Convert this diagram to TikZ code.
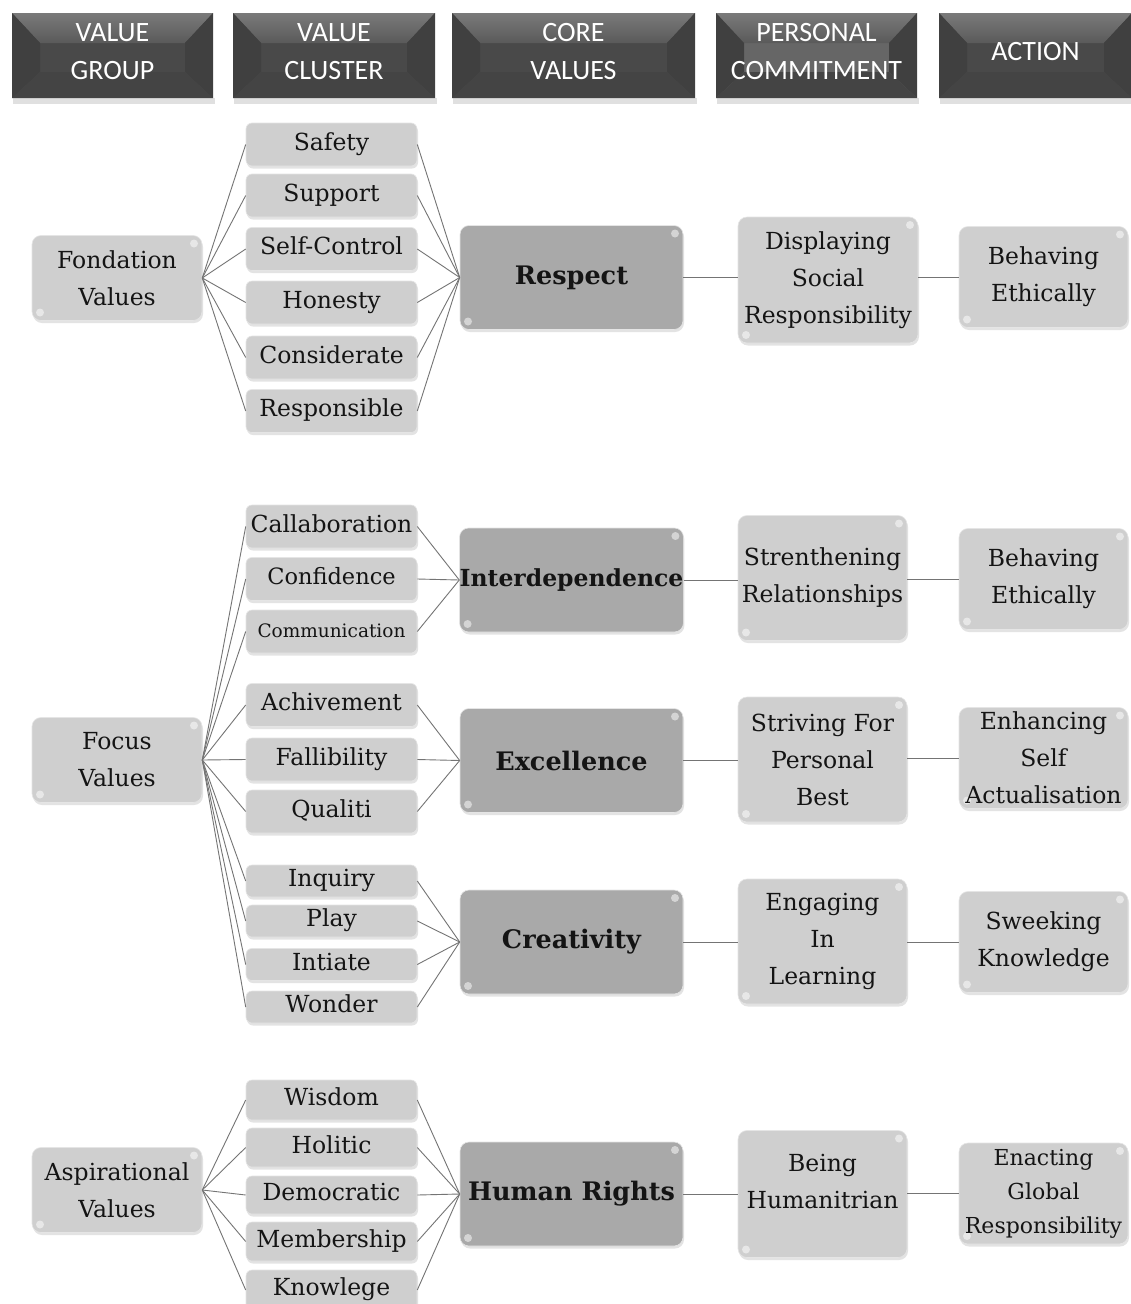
\documentclass[tikz,border=0pt]{standalone}
\usepackage{fontspec}
\setmainfont{DejaVu Serif}
\newfontfamily\hdrfont{Carlito}
\usetikzlibrary{shadows}
\definecolor{boxgray}{HTML}{CFCFCF}
\definecolor{coregray}{HTML}{A9A9A9}
\definecolor{linegray}{HTML}{747474}
\definecolor{txt}{HTML}{141414}
\definecolor{hdrbody}{HTML}{494949}
\definecolor{hdrtopA}{HTML}{7A7A7A}
\definecolor{hdrtopB}{HTML}{5A5A5A}
\definecolor{hdrside}{HTML}{404040}
\definecolor{hdrbot}{HTML}{444444}
\tikzset{
  base/.style={rounded corners=9pt, inner sep=0pt, align=center, text=txt,
    draw=white!80!gray, line width=0.6pt,
    drop shadow={opacity=0.22, shadow xshift=1pt, shadow yshift=-2.5pt},
    path picture={
      \fill[white, opacity=0.5] ([xshift=-8pt,yshift=-8pt]path picture bounding box.north east) circle (4pt);
      \fill[white, opacity=0.5] ([xshift=8pt,yshift=8pt]path picture bounding box.south west) circle (4pt);
    }},
  grp/.style={base, fill=boxgray, minimum width=170pt, minimum height=85pt, font=\fontsize{23.5}{37}\selectfont},
  clu/.style={base, rounded corners=6pt, fill=boxgray, minimum width=171pt, minimum height=43pt,
    text height=17pt, text depth=5.5pt, font=\fontsize{23.5}{30}\selectfont,
    path picture={}},
  core/.style={base, fill=coregray, minimum width=223pt, minimum height=104pt, font=\fontsize{25.5}{30}\selectfont\bfseries},
  pc/.style={base, fill=boxgray, minimum width=169pt, minimum height=125pt, font=\fontsize{23.5}{37}\selectfont},
  act/.style={base, fill=boxgray, minimum width=169pt, minimum height=101pt, font=\fontsize{23.5}{37}\selectfont},
  plain/.style={inner sep=0pt, align=center, text=txt, font=\fontsize{23.5}{37}\selectfont},
  conn/.style={draw=linegray, line width=0.9pt},
  hdrtext/.style={inner sep=0pt, align=center, text=white, font=\hdrfont\fontsize{28}{38}\selectfont}
}
\newcommand\hdrbox[7]{%
  \fill[black, opacity=0.12] (#2+1,#5) rectangle (#4+2,#5+6);
  \fill[#7] (#2,#3) rectangle (#4,#5);
  \path[top color=hdrtopA, bottom color=hdrtopB] (#2,#3) -- (#4,#3) -- (#4-28,#3+30) -- (#2+28,#3+30) -- cycle;
  \fill[hdrside] (#2,#3) -- (#2+28,#3+30) -- (#2+28,#5-26) -- (#2,#5) -- cycle;
  \fill[hdrside] (#4,#3) -- (#4-28,#3+30) -- (#4-28,#5-26) -- (#4,#5) -- cycle;
  \fill[hdrbot] (#2,#5) -- (#2+28,#5-26) -- (#4-28,#5-26) -- (#4,#5) -- cycle;
  \node[hdrtext] (#1) at ({(#2+#4)/2},52) {#6};
}
\begin{document}
\begin{tikzpicture}[x=1pt, y=-1pt]
\useasboundingbox (0,0) rectangle (1130,1304);
\fill[white] (0,0) rectangle (1130,1304);

% ---------- header ----------
\hdrbox{h1}{12}{13}{213}{98}{VALUE\\GROUP}{hdrbody}
\hdrbox{h2}{233}{13}{435}{98}{VALUE\\CLUSTER}{hdrbody}
\hdrbox{h3}{452}{13}{695}{98}{CORE\\VALUES}{hdrbody}
\hdrbox{h4}{716}{13}{917}{98}{PERSONAL\\COMMITMENT}{black!60}
\hdrbox{h5}{939}{13}{1132}{98}{ACTION}{hdrbody}

% ---------- value groups ----------
\node[grp] (fond)  at (117,278)  {Fondation\\Values};
\node[grp] (focus) at (117,760)  {Focus\\Values};
\node[grp] (asp)   at (117,1190) {Aspirational\\Values};

% ---------- clusters ----------
\node[clu] (c1) at (331.5,144.5) {Safety};
\node[clu] (c2) at (331.5,195.5) {Support};
\node[clu] (c3) at (331.5,249)   {Self-Control};
\node[clu] (c4) at (331.5,302.5) {Honesty};
\node[clu] (c5) at (331.5,357.5) {Considerate};
\node[clu] (c6) at (331.5,411)   {Responsible};

\node[clu] (d1) at (331.5,526.5) {Callaboration};
\node[clu, font=\fontsize{22.5}{30}\selectfont] (d2) at (331.5,579)   {Confidence};
\node[clu, font=\fontsize{18.5}{24}\selectfont] (d3) at (331.5,631.5) {Communication};
\node[clu] (d4) at (331.5,705)   {Achivement};
\node[clu] (d5) at (331.5,759.5) {Fallibility};
\node[clu] (d6) at (331.5,811.5) {Qualiti};
\node[clu, minimum height=32pt] (d7)  at (331.5,881)   {Inquiry};
\node[clu, minimum height=32pt] (d8)  at (331.5,921)   {Play};
\node[clu, minimum height=32pt] (d9)  at (331.5,964.5) {Intiate};
\node[clu, minimum height=32pt] (d10) at (331.5,1007)  {Wonder};

\node[clu, minimum height=40pt] (e1) at (331.5,1100)   {Wisdom};
\node[clu, minimum height=39pt] (e2) at (331.5,1147.5) {Holitic};
\node[clu, minimum height=38pt] (e3) at (331.5,1195)   {Democratic};
\node[clu, minimum height=39pt] (e4) at (331.5,1241.5) {Membership};
\node[clu, minimum height=40pt] (e5) at (331.5,1290)   {Knowlege};

% ---------- core values ----------
\node[core] (respect) at (571.5,277.5) {Respect};
\node[core, font=\fontsize{23.5}{30}\selectfont\bfseries] (inter) at (571.5,580) {Interdependence};
\node[core] (excel) at (571.5,760.5) {Excellence};
\node[core] (creat) at (571.5,942)   {Creativity};
\node[core] (human) at (571.5,1194)  {Human Rights};

% ---------- personal commitment ----------
\node[pc, minimum width=180pt, minimum height=126pt] (pc1) at (828,280) {Displaying\\Social\\Responsibility};
\node[pc] (pc2) at (822.5,578)   {Strenthening\\Relationships};
\node[pc] (pc3) at (822.5,759.5) {Striving For\\Personal\\Best};
\node[pc] (pc4) at (822.5,941.5) {Engaging\\In\\Learning};
\node[pc, minimum height=127pt] (pc5) at (822.5,1194) {};
\node[plain] (pc5t) at (822.5,1182) {Being\\Humanitrian};

% ---------- action ----------
\node[act] (a1) at (1043.5,277)    {Behaving\\Ethically};
\node[act] (a2) at (1043.5,579)    {Behaving\\Ethically};
\node[act] (a3) at (1043.5,758)    {Enhancing\\Self\\Actualisation};
\node[act] (a4) at (1043.5,942)    {Sweeking\\Knowledge};
\node[act, font=\fontsize{22}{34}\selectfont] (a5) at (1043.5,1193.5) {Enacting\\Global\\Responsibility};

% ---------- connectors ----------
\foreach \c in {c1,c2,c3,c4,c5,c6} {
  \draw[conn] (fond.east) -- (\c.west);
  \draw[conn] (\c.east) -- (respect.west);
}
\foreach \c in {d1,d2,d3,d4,d5,d6,d7,d8,d9,d10}
  \draw[conn] (focus.east) -- (\c.west);
\foreach \c in {d1,d2,d3} \draw[conn] (\c.east) -- (inter.west);
\foreach \c in {d4,d5,d6} \draw[conn] (\c.east) -- (excel.west);
\foreach \c in {d7,d8,d9,d10} \draw[conn] (\c.east) -- (creat.west);
\foreach \c in {e1,e2,e3,e4,e5} {
  \draw[conn] (asp.east) -- (\c.west);
  \draw[conn] (\c.east) -- (human.west);
}
\draw[conn] (respect.east) -- (respect.east -| pc1.west);
\draw[conn] (a1.west -| pc1.east) -- (a1.west);
\draw[conn] (inter.east) -- (inter.east -| pc2.west);
\draw[conn] (a2.west -| pc2.east) -- (a2.west);
\draw[conn] (excel.east) -- (excel.east -| pc3.west);
\draw[conn] (a3.west -| pc3.east) -- (a3.west);
\draw[conn] (creat.east) -- (creat.east -| pc4.west);
\draw[conn] (a4.west -| pc4.east) -- (a4.west);
\draw[conn] (human.east) -- (human.east -| pc5.west);
\draw[conn] (a5.west -| pc5.east) -- (a5.west);
\end{tikzpicture}
\end{document}
